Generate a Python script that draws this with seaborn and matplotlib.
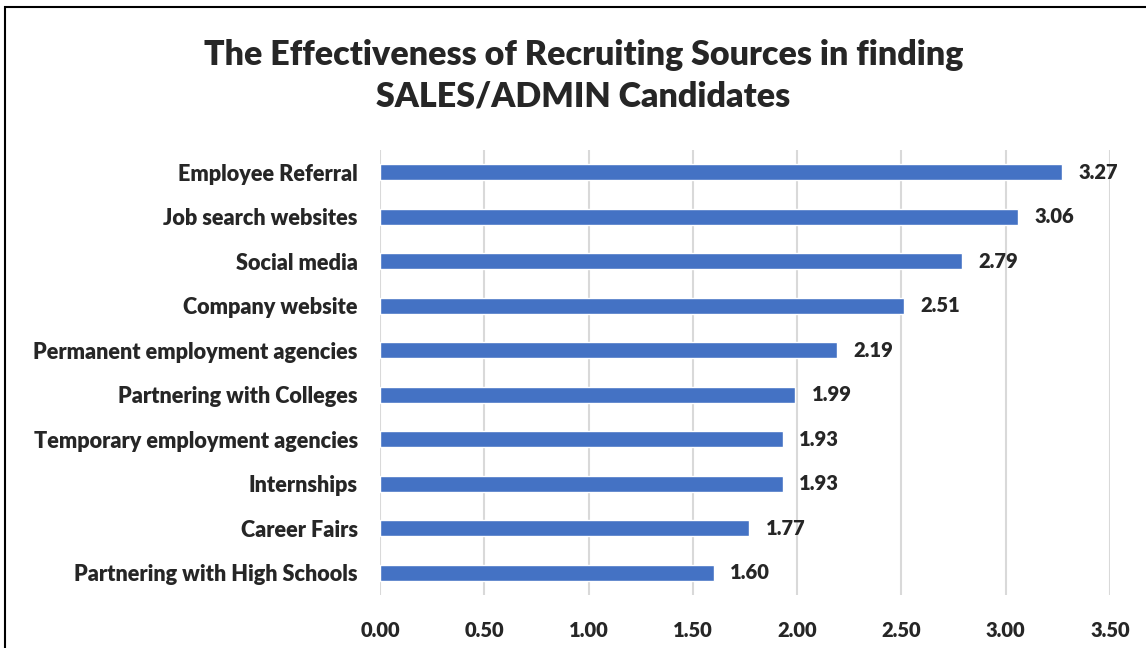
import matplotlib
matplotlib.use("Agg")
import matplotlib.pyplot as plt
import pandas as pd
import seaborn as sns
from matplotlib.patches import Rectangle

sources = [
    "Employee Referral",
    "Job search websites",
    "Social media",
    "Company website",
    "Permanent employment agencies",
    "Partnering with Colleges",
    "Temporary employment agencies",
    "Internships",
    "Career Fairs",
    "Partnering with High Schools",
]
scores = [3.27, 3.06, 2.79, 2.51, 2.19, 1.99, 1.93, 1.93, 1.77, 1.60]
x_ticks = [0.0, 0.5, 1.0, 1.5, 2.0, 2.5, 3.0, 3.5]

df = pd.DataFrame({"source": sources, "score": scores})

sns.set_style("white")
plt.rcParams["font.family"] = ["Lato", "DejaVu Sans"]

fig = plt.figure(figsize=(11.46, 6.48), dpi=100)
ax = fig.add_axes([0.3316, 0.0818, 0.6370, 0.6867])

sns.barplot(data=df, y="source", x="score", order=sources, color="#4472C4",
            width=0.36, saturation=1, ax=ax)

ax.set_xlim(0, 3.5)
ax.set_xticks(x_ticks)
ax.set_xticklabels([f"{t:.2f}" for t in x_ticks])
ax.grid(axis="x", color="#d9d9d9", linewidth=1.5)
ax.set_axisbelow(True)
for s in ax.spines.values():
    s.set_visible(False)
ax.set_xlabel("")
ax.set_ylabel("")
ax.tick_params(axis="x", length=0, pad=19, labelsize=14.5)
ax.tick_params(axis="y", length=0, pad=16, labelsize=15.6)
for lab in ax.get_xticklabels() + ax.get_yticklabels():
    lab.set_fontweight("heavy")

ax.bar_label(ax.containers[0], fmt="%.2f", padding=12, fontsize=14.5,
             fontweight="heavy")

fig.text(0.509, 0.883, "The Effectiveness of Recruiting Sources in finding\nSALES/ADMIN Candidates",
         ha="center", va="center", fontsize=24.5, fontweight="heavy", linespacing=1.38)

# chart frame, partly cut off like the screenshot
fig.patches.append(Rectangle((5 / 1146, -0.05), 1.2, 1 - 7 / 648 + 0.05,
                             transform=fig.transFigure, fill=False,
                             edgecolor="black", linewidth=1.5))

fig.savefig("out.png", dpi=100)
